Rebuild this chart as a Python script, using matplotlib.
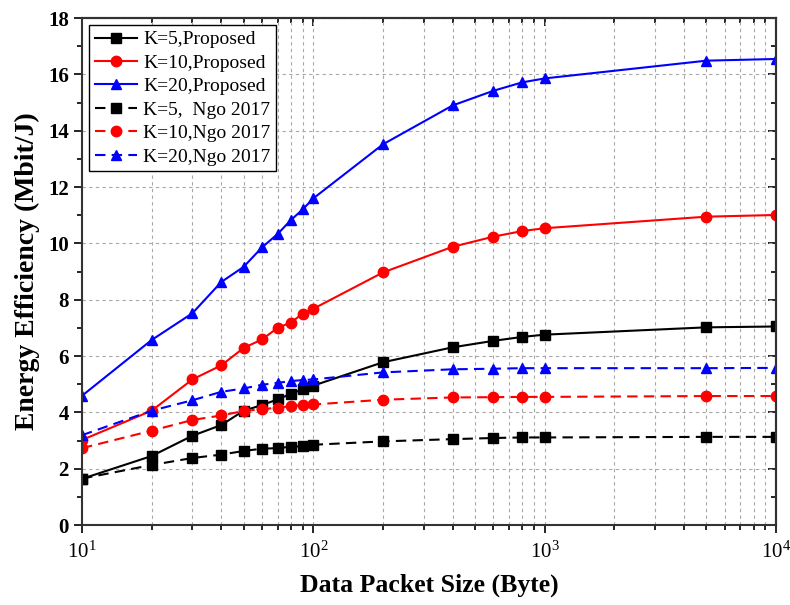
import matplotlib
matplotlib.use("Agg")
import matplotlib.pyplot as plt
from matplotlib.ticker import MultipleLocator, NullFormatter, LogLocator

plt.rcParams["font.family"] = ["Liberation Serif", "DejaVu Serif"]
plt.rcParams["mathtext.fontset"] = "custom"
plt.rcParams["mathtext.rm"] = "Liberation Serif:bold"
plt.rcParams["mathtext.bf"] = "Liberation Serif:bold"

packet_size = [10, 20, 30, 40, 50, 60, 70, 80, 90, 100, 200, 400, 600, 800, 1000, 5000, 10000]

k5_proposed = [1.64, 2.45, 3.17, 3.55, 4.06, 4.26, 4.46, 4.66, 4.82, 4.95,
               5.78, 6.31, 6.54, 6.68, 6.76, 7.02, 7.05]
k10_proposed = [3.02, 4.06, 5.17, 5.67, 6.29, 6.59, 7.0, 7.19, 7.51, 7.68,
                8.97, 9.88, 10.24, 10.44, 10.54, 10.95, 11.01]
k20_proposed = [4.59, 6.57, 7.52, 8.63, 9.17, 9.86, 10.33, 10.83, 11.21, 11.6,
                13.52, 14.9, 15.42, 15.72, 15.86, 16.49, 16.55]
k5_ngo = [1.65, 2.13, 2.38, 2.5, 2.63, 2.71, 2.73, 2.78, 2.8, 2.85,
          2.97, 3.05, 3.09, 3.11, 3.11, 3.13, 3.13]
k10_ngo = [2.73, 3.35, 3.73, 3.89, 4.05, 4.11, 4.17, 4.22, 4.26, 4.28,
           4.45, 4.53, 4.54, 4.55, 4.55, 4.58, 4.58]
k20_ngo = [3.19, 4.06, 4.43, 4.73, 4.85, 4.98, 5.05, 5.11, 5.15, 5.17,
           5.42, 5.53, 5.55, 5.57, 5.57, 5.57, 5.58]

series = [
    ("K=5,Proposed", k5_proposed, "black", "s", "-"),
    ("K=10,Proposed", k10_proposed, "red", "o", "-"),
    ("K=20,Proposed", k20_proposed, "blue", "^", "-"),
    ("K=5,  Ngo 2017", k5_ngo, "black", "s", "--"),
    ("K=10,Ngo 2017", k10_ngo, "red", "o", "--"),
    ("K=20,Ngo 2017", k20_ngo, "blue", "^", "--"),
]

fig = plt.figure(figsize=(7.9, 6.05), dpi=100)
ax = fig.add_axes([0.1038, 0.1322, 0.8785, 0.8378])

for label, values, color, marker, ls in series:
    line, = ax.plot(packet_size, values, color=color, marker=marker, ls=ls, lw=1.5,
                    ms=7.5, label=label)
    if ls == "--":
        line.set_dashes((5, 3))

ax.set_xscale("log")
ax.set_xlim(10, 10000)
ax.set_ylim(0, 18)
ax.yaxis.set_major_locator(MultipleLocator(2))
ax.yaxis.set_minor_locator(MultipleLocator(1))
ax.xaxis.set_minor_locator(LogLocator(base=10, subs=range(2, 10)))
ax.xaxis.set_minor_formatter(NullFormatter())

grid_style = dict(color="#a8a8a8", ls=(0, (3, 3)), lw=0.8)
ax.grid(True, which="major", axis="both", **grid_style)
ax.grid(True, which="minor", axis="x", **grid_style)

ax.tick_params(which="both", direction="out", width=1.2, labelsize=15)
ax.tick_params(which="major", length=6)
ax.tick_params(which="minor", length=3.5)
for lab in ax.get_yticklabels():
    lab.set_fontweight("bold")
ax.tick_params(axis="x", pad=6)

# top and right edges carry inward ticks without labels
top = ax.secondary_xaxis("top")
top.tick_params(which="both", direction="in", width=1.2, labeltop=False)
top.tick_params(which="major", length=6)
top.tick_params(which="minor", length=3.5)
top.xaxis.set_minor_locator(LogLocator(base=10, subs=range(2, 10)))
top.xaxis.set_minor_formatter(NullFormatter())
top.xaxis.set_major_formatter(NullFormatter())
right = ax.secondary_yaxis("right")
right.tick_params(which="both", direction="in", width=1.2, labelright=False)
right.tick_params(which="major", length=6)
right.tick_params(which="minor", length=3.5)
right.yaxis.set_major_locator(MultipleLocator(2))
right.yaxis.set_minor_locator(MultipleLocator(1))
right.yaxis.set_major_formatter(NullFormatter())

for spine in list(ax.spines.values()) + [top.spines["top"], right.spines["right"]]:
    spine.set_linewidth(1.5)
    spine.set_color("#333333")

ax.set_xlabel("Data Packet Size (Byte)", fontsize=18.5, fontweight="bold", labelpad=8)
ax.set_ylabel("Energy Efficiency (Mbit/J)", fontsize=20, fontweight="bold", labelpad=6)

leg = ax.legend(loc="upper left", fontsize=14, frameon=True, fancybox=False,
                edgecolor="black", framealpha=1, handlelength=2.2, handletextpad=0.3,
                borderaxespad=0.35, labelspacing=0.3, borderpad=0.3, markerscale=1.0)
leg.get_frame().set_linewidth(1.0)

fig.savefig("out.png", dpi=100)
